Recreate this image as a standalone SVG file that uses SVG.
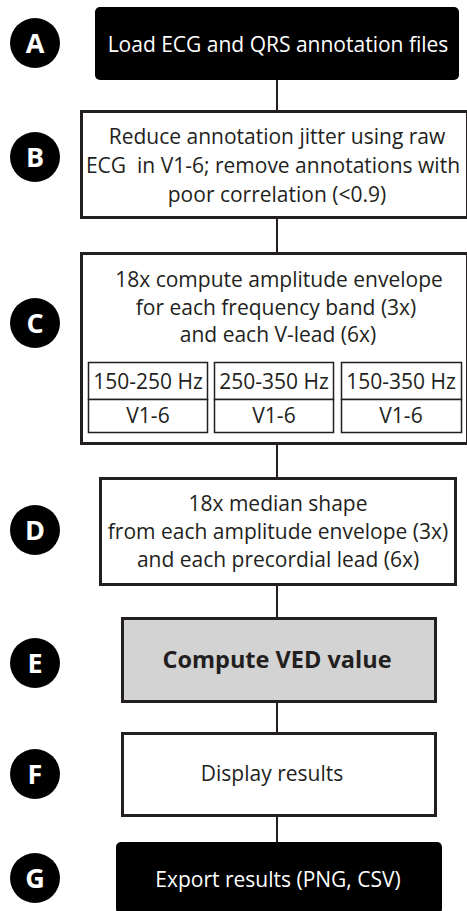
<svg xmlns="http://www.w3.org/2000/svg" width="467" height="911" viewBox="0 0 467 911">
<style>
.t{font-family:"Open Sans","Liberation Sans",sans-serif;font-size:21px;fill:#231f20;text-anchor:middle}
.w{fill:#fff}
.b{font-weight:bold;font-size:23.5px}
.box{fill:#fff;stroke:#231f20;stroke-width:3}
.sub{fill:#fff;stroke:#231f20;stroke-width:1.5}
.blk{fill:#000}
.lab{font-family:"Open Sans","Liberation Sans",sans-serif;font-size:27px;font-weight:bold;fill:#fff;text-anchor:middle}
.ln{stroke:#231f20;stroke-width:2;fill:none}
</style>
<g id="connectors">
<line class="ln" x1="277" y1="80" x2="277" y2="110"/>
<line class="ln" x1="277" y1="218" x2="277" y2="252"/>
<line class="ln" x1="277" y1="444" x2="277" y2="477"/>
<line class="ln" x1="277" y1="585" x2="277" y2="617"/>
<line class="ln" x1="277" y1="702" x2="277" y2="732"/>
<line class="ln" x1="277" y1="816" x2="277" y2="842"/>
</g>
<g id="labels">
<g id="lblA"><circle class="blk" cx="35" cy="43" r="25"/><text class="lab" x="35" y="53">A</text></g>
<g id="lblB"><circle class="blk" cx="35" cy="157" r="25"/><text class="lab" x="35" y="167">B</text></g>
<g id="lblC"><circle class="blk" cx="35" cy="323" r="25"/><text class="lab" x="35" y="333">C</text></g>
<g id="lblD"><circle class="blk" cx="35" cy="530" r="25"/><text class="lab" x="35" y="540">D</text></g>
<g id="lblE"><circle class="blk" cx="35" cy="663" r="25"/><text class="lab" x="35" y="673">E</text></g>
<g id="lblF"><circle class="blk" cx="35" cy="774" r="25"/><text class="lab" x="35" y="784">F</text></g>
<g id="lblG"><circle class="blk" cx="35" cy="878" r="25"/><text class="lab" x="35" y="888">G</text></g>
</g>
<g id="nodeA">
<rect class="blk" x="95" y="7" width="364" height="73" rx="5"/>
<text class="t w" x="278" y="52">Load ECG and QRS annotation files</text>
</g>
<g id="nodeB">
<rect class="box" x="81.5" y="111.5" width="386" height="106"/>
<text class="t" x="277" y="144">Reduce annotation jitter using raw</text>
<text class="t" x="273" y="173" xml:space="preserve" style="white-space:pre">ECG  in V1-6; remove annotations with</text>
<text class="t" x="277" y="202">poor correlation (&lt;0.9)</text>
</g>
<g id="nodeC">
<rect class="box" x="81.5" y="253.5" width="386" height="190"/>
<text class="t" x="279" y="287">18x compute amplitude envelope</text>
<text class="t" x="276" y="315">for each frequency band (3x)</text>
<text class="t" x="278" y="342">and each V-lead (6x)</text>
<g id="c1"><rect class="sub" x="88.5" y="362.5" width="119" height="37"/><rect class="sub" x="88.5" y="399.5" width="119" height="33"/>
<text class="t" x="148" y="389">150-250 Hz</text><text class="t" x="148" y="423">V1-6</text></g>
<g id="c2"><rect class="sub" x="214.5" y="362.5" width="119" height="37"/><rect class="sub" x="214.5" y="399.5" width="119" height="33"/>
<text class="t" x="274" y="389">250-350 Hz</text><text class="t" x="274" y="423">V1-6</text></g>
<g id="c3"><rect class="sub" x="341.5" y="362.5" width="120" height="37"/><rect class="sub" x="341.5" y="399.5" width="120" height="33"/>
<text class="t" x="401" y="389">150-350 Hz</text><text class="t" x="401" y="423">V1-6</text></g>
</g>
<g id="nodeD">
<rect class="box" x="100.5" y="478.5" width="355" height="106"/>
<text class="t" x="278" y="511">18x median shape</text>
<text class="t" x="278" y="539">from each amplitude envelope (3x)</text>
<text class="t" x="278" y="567">and each precordial lead (6x)</text>
</g>
<g id="nodeE">
<rect class="box" x="122.5" y="618.5" width="313" height="83" style="fill:#d3d3d3"/>
<text class="t b" x="277" y="668">Compute VED value</text>
</g>
<g id="nodeF">
<rect class="box" x="122.5" y="733.5" width="313" height="82"/>
<text class="t" x="272" y="781">Display results</text>
</g>
<g id="nodeG">
<rect class="blk" x="116" y="842" width="326" height="72" rx="5"/>
<text class="t w" x="278" y="887">Export results (PNG, CSV)</text>
</g>
</svg>
